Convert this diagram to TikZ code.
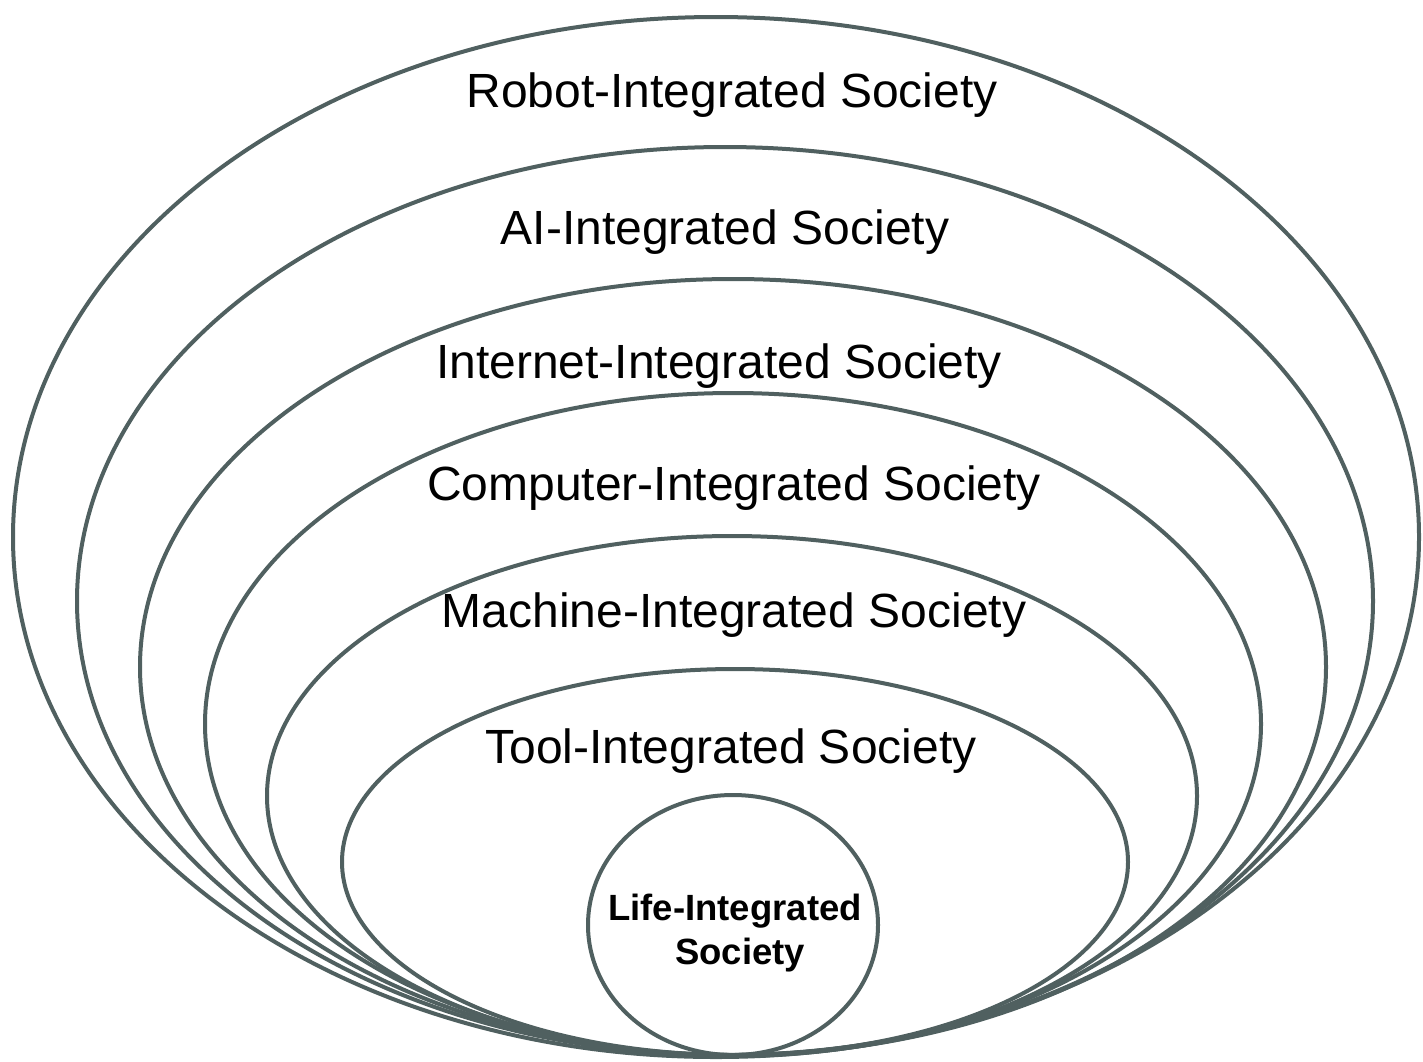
\documentclass[tikz,border=0pt]{standalone}
\usepackage{fontspec}
\setmainfont{Liberation Sans}
\definecolor{ring}{RGB}{80,96,96}
\begin{document}
\begin{tikzpicture}[x=1pt,y=-1pt,
  ringline/.style={draw=ring,line width=4pt},
  lbl/.style={anchor=base,inner sep=0pt,font=\fontsize{48}{56}\selectfont},
  lifelbl/.style={align=center,inner sep=0pt,font=\fontsize{36.5}{44}\selectfont\bfseries}]
\useasboundingbox (0,0) rectangle (1423,1061);
% rings, outer to inner
\draw[ringline] (716,537) ellipse [x radius=703,y radius=520];
\draw[ringline] (725,601) ellipse [x radius=648,y radius=454];
\draw[ringline] (733,667) ellipse [x radius=593,y radius=388];
\draw[ringline] (733,724) ellipse [x radius=528,y radius=331];
\draw[ringline] (732,796) ellipse [x radius=465,y radius=260];
\draw[ringline] (735,862) ellipse [x radius=393,y radius=193];
\draw[ringline] (733,925) ellipse [x radius=145,y radius=130];
% labels
\node[lbl] (robot) at (732,107) {Robot-Integrated Society};
\node[lbl] (ai) at (725,244) {AI-Integrated Society};
\node[lbl] (internet) at (719,378) {Internet-Integrated Society};
\node[lbl] (computer) at (734,500) {Computer-Integrated Society};
\node[lbl] (machine) at (734,627) {Machine-Integrated Society};
\node[lbl] (tool) at (731,763) {Tool-Integrated Society};
\node[lifelbl] (life) at (735,933) {Life-Integrated\\ \hspace*{10pt}Society};
\end{tikzpicture}
\end{document}
